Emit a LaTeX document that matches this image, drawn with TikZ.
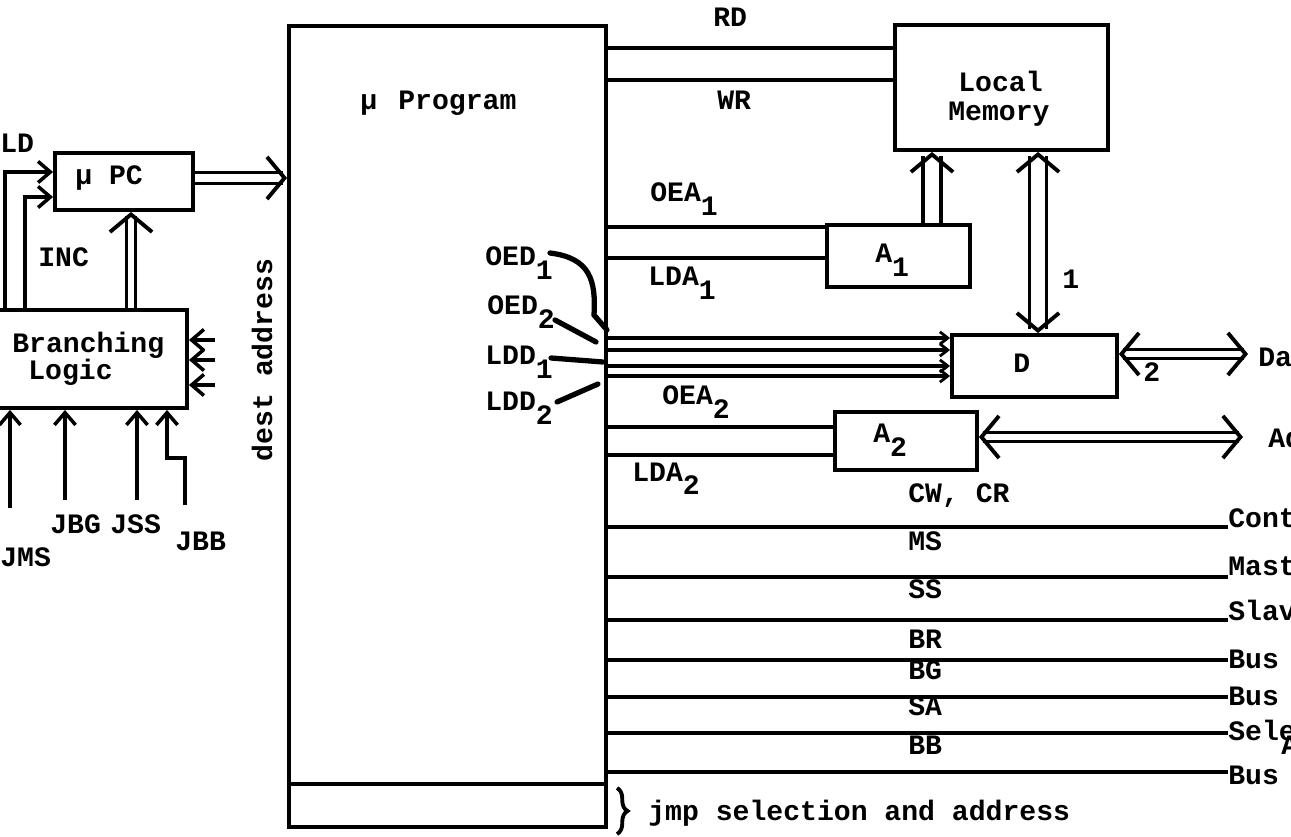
\documentclass[tikz,border=0pt]{standalone}
\usepackage{fontspec}
\setmainfont{Liberation Mono}
\usetikzlibrary{arrows.meta,fit,decorations.pathreplacing}
\newcommand\sbs[1]{\raisebox{-0.9ex}{#1}}
\begin{document}
\begin{tikzpicture}[x=0.02cm,y=-0.02cm,
  font=\bfseries\fontsize{16}{15.5}\selectfont,
  box/.style={draw,line width=2.2pt,inner sep=0pt},
  wire/.style={line width=2.2pt},
  stip/.tip={Straight Barb[length=7pt,width=12pt,line width=2pt]},
  ttip/.tip={Straight Barb[length=4.5pt,width=7pt,line width=1.6pt]},
  dtip/.tip={Straight Barb[length=10pt,width=24pt,line width=2.2pt]},
  sarr/.style={wire,-{stip}},
  tarr/.style={line width=1.9pt,-{ttip}},
  dbl/.style={line width=1.9pt,double,double distance=#1},
  ptr/.style={line width=3pt,line cap=round},
  lbl/.style={anchor=base west,inner sep=0pt}]
\useasboundingbox (0,0) rectangle (1291,837);
\clip (0,0) rectangle (1291,837);
\fill[white] (0,0) rectangle (1291,837);

% boxes
\node[box,fit={(289,26)(606,827)}] (prog) {};
\node[box,fit={(55,153)(193,210)}] (pc) {};
\node[box,fit={(-5,310)(187,408)}] (bl) {};
\node[box,fit={(895,25)(1108,150)}] (lm) {};
\node[box,fit={(827,225)(970,287)}] (a1) {};
\node[box,fit={(952,335)(1117,397)}] (d) {};
\node[box,fit={(835,412)(977,470)}] (a2) {};
\draw[wire] (prog.west |- 0,784) -- (prog.east |- 0,784);

% texts
\node[lbl] (tprog) at (360,110) {μ\hspace{0.75em}Program};
\node[lbl] (tpc) at (75,185) {μ PC};
\node[lbl] (tld) at (0,153) {LD};
\node[lbl] (tinc) at (38,267) {INC};
\node[lbl] (tbr) at (12,353) {Branching};
\node[lbl] (tlo) at (28,380) {Logic};
\node[lbl] (jms) at (0,566) {JMS};
\node[lbl] (jbg) at (50,533) {JBG};
\node[lbl] (jss) at (110,533) {JSS};
\node[lbl] (jbb) at (175,550) {JBB};
\node[inner sep=0pt,rotate=90] (dest) at (262,360) {dest address};
\node[lbl] (rd) at (713,27) {RD};
\node[lbl] (wr) at (717,110) {WR};
\node[lbl] (tlocal) at (958,92) {Local};
\node[lbl] (tmem) at (948,121) {Memory};
\node[lbl] (oea1) at (650,202) {OEA\sbs{1}};
\node[lbl] (lda1) at (648,286) {LDA\sbs{1}};
\node[lbl] (ta1) at (875,263) {A\sbs{1}};
\node[lbl] (oed1) at (485,266) {OED\sbs{1}};
\node[lbl] (oed2) at (487,315) {OED\sbs{2}};
\node[lbl] (ldd1) at (485,365) {LDD\sbs{1}};
\node[lbl] (ldd2) at (485,411) {LDD\sbs{2}};
\node[lbl] (oea2) at (662,405) {OEA\sbs{2}};
\node[lbl] (lda2) at (632,481) {LDA\sbs{2}};
\node[lbl] (ta2) at (873,443) {A\sbs{2}};
\node[lbl] (td) at (1013,373) {D};
\node[lbl] (two) at (1143,382) {2};
\node[lbl] (one) at (1062,289) {1};
\node[lbl] (da) at (1258,367) {Da};
\node[lbl] (ad) at (1268,448) {Ad};
\node[lbl] (cwcr) at (908,502) {CW, CR};
\node[lbl] (ms) at (908,550) {MS};
\node[lbl] (ss) at (908,598) {SS};
\node[lbl] (br) at (908,648) {BR};
\node[lbl] (bg) at (908,679) {BG};
\node[lbl] (sa) at (908,715) {SA};
\node[lbl] (bb) at (908,754) {BB};
\node[lbl] (cont) at (1228,527) {Cont};
\node[lbl] (mast) at (1228,575) {Mast};
\node[lbl] (slav) at (1228,620) {Slav};
\node[lbl] (bus1) at (1228,668) {Bus};
\node[lbl] (bus2) at (1228,705) {Bus};
\node[lbl] (sele) at (1228,740) {Sele};
\node[lbl] (aa) at (1281,754) {A};
\node[lbl] (bus3) at (1228,784) {Bus};
\node[lbl] (jmp) at (648,820) {jmp selection and address};

% double arrows
\draw[dbl=4.5pt,-{dtip}] (pc.east |- 0,178) -- (prog.west |- 0,178);
\draw[dbl=3pt,-{dtip}] (bl.north -| 131,0) -- (pc.south -| 131,0);
\draw[dbl=8.5pt,-{dtip}] (a1.north -| 932,0) -- (lm.south -| 932,0);
\draw[dbl=7.5pt,{dtip}-{dtip}] (lm.south -| 1038,0) -- (d.north -| 1038,0);
\coordinate (dend) at (1248,354);
\coordinate (aend) at (1243,437);
\draw[dbl=3pt,{dtip}-{dtip}] (d.east |- 0,354) -- (dend);
\draw[dbl=3.4pt,{dtip}-{dtip}] (a2.east |- 0,437) -- (aend);

% single wires
\draw[wire] (prog.east |- 0,48) -- (lm.west |- 0,48);
\draw[wire] (prog.east |- 0,80) -- (lm.west |- 0,80);
\draw[wire] (prog.east |- 0,227) -- (a1.west |- 0,227);
\draw[wire] (prog.east |- 0,258) -- (a1.west |- 0,258);
\draw[tarr] (prog.east |- 0,338) -- (d.west |- 0,338);
\draw[tarr] (prog.east |- 0,350) -- (d.west |- 0,350);
\draw[tarr] (prog.east |- 0,366) -- (d.west |- 0,366);
\draw[tarr] (prog.east |- 0,376) -- (d.west |- 0,376);
\draw[wire] (prog.east |- 0,427) -- (a2.west |- 0,427);
\draw[wire] (prog.east |- 0,455) -- (a2.west |- 0,455);
\draw[wire] (prog.east |- 0,527) -- (cont.west |- 0,527);
\draw[wire] (prog.east |- 0,577) -- (mast.west |- 0,577);
\draw[wire] (prog.east |- 0,620) -- (slav.west |- 0,620);
\draw[wire] (prog.east |- 0,660) -- (bus1.west |- 0,660);
\draw[wire] (prog.east |- 0,697) -- (bus2.west |- 0,697);
\draw[wire] (prog.east |- 0,733) -- (sele.west |- 0,733);
\draw[wire] (prog.east |- 0,772) -- (bus3.west |- 0,772);

% pointer strokes
\draw[ptr] (550,253) .. controls (590,258) and (596,280) .. (594,315) -- (607,330);
\draw[ptr] (555,320) -- (596,342);
\draw[ptr] (551,358) -- (603,362);
\draw[ptr] (557,402) -- (598,384);

% branching logic connections
\draw[sarr] (bl.north -| 5,0) |- (pc.west |- 0,172);
\draw[sarr] (bl.north -| 25,0) |- (pc.west |- 0,197);
\draw[sarr] (215,340) -- (bl.east |- 0,340);
\draw[sarr] (215,360) -- (bl.east |- 0,360);
\draw[sarr] (215,385) -- (bl.east |- 0,385);
\draw[sarr] (10,508) -- (bl.south -| 10,0);
\draw[sarr] (65,500) -- (bl.south -| 65,0);
\draw[sarr] (137,500) -- (bl.south -| 137,0);
\draw[sarr] (185,505) -- (185,458) -- (167,458) -- (bl.south -| 167,0);

% brace
\draw[line width=2.2pt,decorate,decoration={brace,amplitude=6pt}] (617,788) -- (617,834);
\end{tikzpicture}
\end{document}
